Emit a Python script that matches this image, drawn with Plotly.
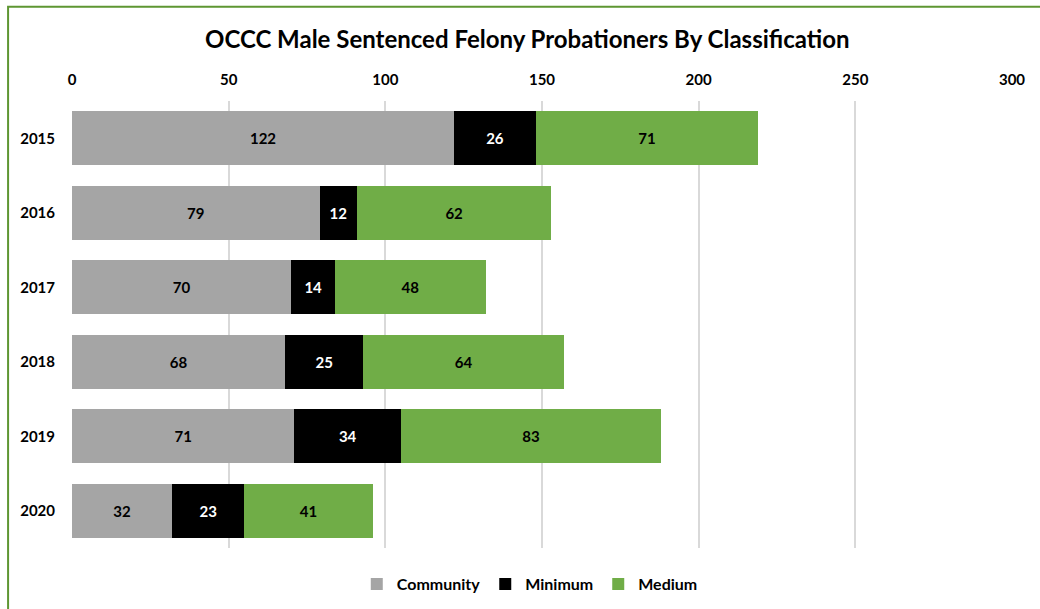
import plotly.graph_objects as go

years = ["2015", "2016", "2017", "2018", "2019", "2020"]
community = [122, 79, 70, 68, 71, 32]
minimum = [26, 12, 14, 25, 34, 23]
medium = [71, 62, 48, 64, 83, 41]

FONT = "Lato"

series = [
    ("Community", community, "#a5a5a5", "#000000"),
    ("Minimum", minimum, "#000000", "#ffffff"),
    ("Medium", medium, "#70ad47", "#000000"),
]

fig = go.Figure()
for name, vals, color, tcolor in series:
    fig.add_trace(go.Bar(
        y=years, x=vals, name=name, orientation="h",
        marker=dict(color=color, line=dict(width=0)),
        text=[str(v) for v in vals], textposition="inside",
        insidetextanchor="middle", textangle=0,
        textfont=dict(family=FONT, size=15, color=tcolor, weight="bold"),
        hoverinfo="x+y+name",
    ))

fig.update_layout(
    barmode="stack",
    bargap=0.27,
    width=1040, height=609,
    margin=dict(l=72, r=28, t=101, b=61, autoexpand=False),
    paper_bgcolor="#ffffff", plot_bgcolor="#ffffff",
    font=dict(family=FONT, color="#000000"),
    title=dict(
        text="<b>OCCC Male Sentenced Felony Probationers By Classification</b>",
        x=0.507, xanchor="center", y=0.935, yanchor="middle",
        font=dict(family=FONT, size=24, color="#000000"),
    ),
    xaxis=dict(
        side="top", range=[0, 300], dtick=50, tick0=0,
        showgrid=True, gridcolor="#d9d9d9", gridwidth=1.5,
        zeroline=False, showline=False, ticks="",
        tickfont=dict(family=FONT, size=15, color="#000000", weight="bold"),
        ticklabelstandoff=12,
    ),
    yaxis=dict(
        categoryorder="array", categoryarray=years, autorange="reversed",
        showgrid=False, zeroline=False, showline=False, ticks="",
        tickfont=dict(family=FONT, size=15, color="#000000", weight="bold"),
        ticklabelstandoff=16,
    ),
    legend=dict(
        orientation="h", x=0.487, xanchor="center",
        yref="container", y=0.041, yanchor="middle",
        font=dict(family=FONT, size=16, color="#000000", weight="bold"),
        traceorder="normal", itemwidth=30,
    ),
    shapes=[dict(
        type="rect", xref="paper", yref="paper",
        x0=-0.068, x1=1.2, y0=-0.3, y1=1.2108,
        line=dict(color="#5e9632", width=2), fillcolor="rgba(0,0,0,0)",
        layer="below",
    )],
)

fig.write_html("out.html")
